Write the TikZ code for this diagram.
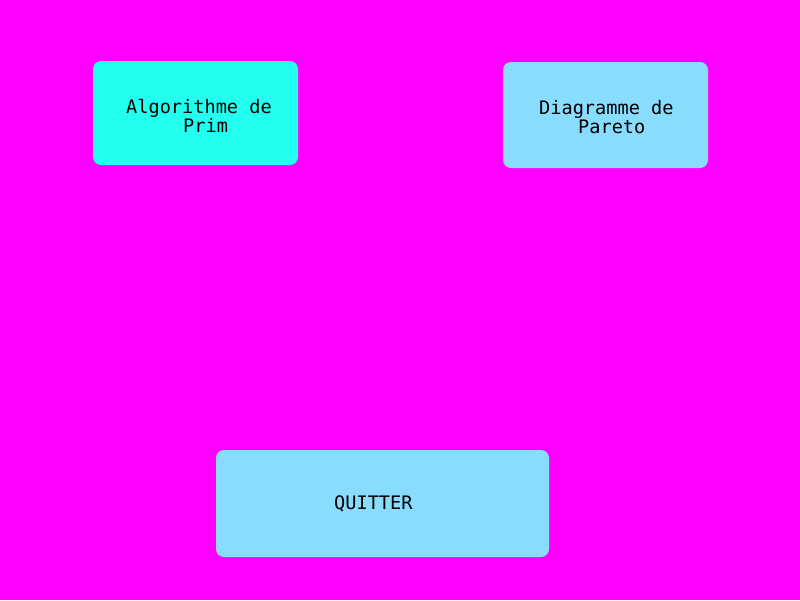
\documentclass[tikz,border=0pt]{standalone}
\usepackage{fontspec}
\setmonofont{DejaVu Sans Mono}
\definecolor{bgmag}{HTML}{FF00FF}
\definecolor{cyanbox}{HTML}{22FFEE}
\definecolor{bluebox}{HTML}{88DDFF}
\tikzset{
  menubox/.style={rounded corners=8pt, inner sep=0pt, outer sep=0pt},
  lbl/.style={font=\fontsize{18.6}{22}\selectfont\ttfamily, text=black, inner sep=0pt, anchor=base west}
}
\begin{document}
\begin{tikzpicture}[x=1pt,y=-1pt]
\fill[bgmag] (0,0) rectangle (800,600);
\useasboundingbox (0,0) rectangle (800,600);
\path[menubox, fill=cyanbox] (93,61) rectangle (298,165) coordinate (boxa);
\path[menubox, fill=bluebox] (503,62) rectangle (708,168) coordinate (boxb);
\path[menubox, fill=bluebox] (216,450) rectangle (549,557) coordinate (boxc);
\node[lbl] (a1) at (126,113) {Algorithme de};
\node[lbl] (a2) at (183,132) {Prim};
\node[lbl] (b1) at (539,114) {Diagramme de};
\node[lbl] (b2) at (578,133) {Pareto};
\node[lbl] (c1) at (334,509) {QUITTER};
\end{tikzpicture}
\end{document}
